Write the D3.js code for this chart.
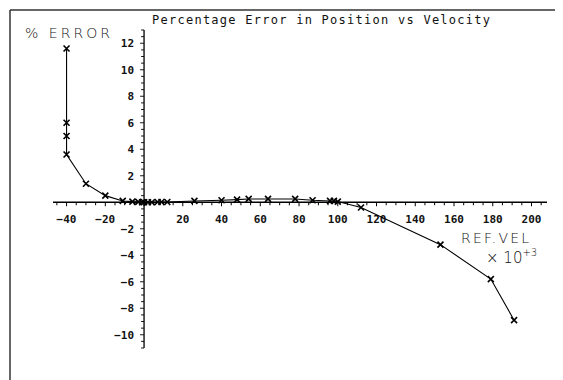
<!DOCTYPE html>
<html>
<head>
<meta charset="utf-8">
<script src="https://cdnjs.cloudflare.com/ajax/libs/d3/7.8.5/d3.min.js"></script>
<style>
  body { margin: 0; background: #fff; }
  .tick-label { font-family: "DejaVu Sans Mono", monospace; font-size: 11px; font-weight: bold; fill: #111; }
  .title { font-family: "DejaVu Sans Mono", monospace; font-size: 12px; fill: #111; }
  .hand { font-family: "DejaVu Sans", sans-serif; font-weight: 300; fill: #111; }
</style>
</head>
<body>
<div id="chart"></div>
<script>
//canvas size
var svgWidth = 563;
var svgHeight = 380;

// reference velocity (x 10^3) and percentage error
var refVel = [-40, -40, -40, -40, -30, -20, -11, -6, -3, -1, 0, 2, 4, 7, 9, 12, 26, 40, 48, 54, 64, 78, 87, 96, 98, 100, 112, 153, 179, 191];
var pctError = [11.6, 6.0, 5.0, 3.6, 1.4, 0.5, 0.1, 0.05, 0.03, 0, 0, 0, 0, 0.02, 0.02, 0.02, 0.1, 0.15, 0.2, 0.25, 0.25, 0.25, 0.15, 0.1, 0.1, 0.05, -0.4, -3.2, -5.8, -8.9];

// tick labels
var xTickLabels = [-40, -20, 20, 40, 60, 80, 100, 120, 140, 160, 180, 200];
var yTickLabels = [-10, -8, -6, -4, -2, 2, 4, 6, 8, 10, 12];

var svg = d3.select("#chart")
  .append("svg")
  .attr("width", svgWidth)
  .attr("height", svgHeight);

// page border (scanned frame)
svg.append("line")
  .attr("x1", 10).attr("y1", 10).attr("x2", 555).attr("y2", 10)
  .attr("stroke", "#333").attr("stroke-width", 1.5);
svg.append("line")
  .attr("x1", 10).attr("y1", 10).attr("x2", 10).attr("y2", 380)
  .attr("stroke", "#333").attr("stroke-width", 1.5);

// scales
var xScale = d3.scaleLinear().domain([-47, 208]).range([53, 547]);
var yScale = d3.scaleLinear().domain([-11, 13]).range([348, 30]);

var x0 = xScale(0);
var y0 = yScale(0);

// minor ticks
var xMinor = d3.range(-45, 206, 5);
var yMinor = d3.range(-11, 13.01, 0.5);

// x axis through zero
var xAxisG = svg.append("g")
  .attr("transform", `translate(0, ${y0})`);

xAxisG.append("line")
  .attr("x1", xScale(-47)).attr("x2", xScale(208))
  .attr("stroke", "#000").attr("stroke-width", 1.3);

xAxisG.selectAll(".xminor")
  .data(xMinor)
  .enter()
  .append("line")
  .attr("x1", d => xScale(d)).attr("x2", d => xScale(d))
  .attr("y1", 0).attr("y2", d => d % 20 === 0 ? 4 : 3)
  .attr("stroke", "#000").attr("stroke-width", 1);

xAxisG.selectAll(".tick-label")
  .data(xTickLabels)
  .enter()
  .append("text")
  .attr("class", "tick-label")
  .attr("x", d => xScale(d))
  .attr("y", 21)
  .attr("text-anchor", "middle")
  .text(d => d < 0 ? "\u2212" + Math.abs(d) : d);

// y axis through zero
var yAxisG = svg.append("g")
  .attr("transform", `translate(${x0}, 0)`);

yAxisG.append("line")
  .attr("y1", yScale(-11)).attr("y2", yScale(13))
  .attr("stroke", "#000").attr("stroke-width", 1.3);

yAxisG.selectAll(".yminor")
  .data(yMinor)
  .enter()
  .append("line")
  .attr("y1", d => yScale(d)).attr("y2", d => yScale(d))
  .attr("x1", d => d % 2 === 0 ? -4 : -3).attr("x2", 0)
  .attr("stroke", "#000").attr("stroke-width", 0.9);

yAxisG.selectAll(".tick-label")
  .data(yTickLabels)
  .enter()
  .append("text")
  .attr("class", "tick-label")
  .attr("x", -10)
  .attr("y", d => yScale(d))
  .attr("dy", "0.35em")
  .attr("text-anchor", "end")
  .text(d => d < 0 ? "\u2212" + Math.abs(d) : d);

// data line
var points = refVel.map((v, i) => [v, pctError[i]]);

var line = d3.line()
  .x(d => xScale(d[0]))
  .y(d => yScale(d[1]));

svg.append("path")
  .datum(points)
  .attr("d", line)
  .attr("fill", "none")
  .attr("stroke", "#000")
  .attr("stroke-width", 1.1);

// cross markers
var s = 3;
var marks = svg.selectAll(".mark")
  .data(points)
  .enter()
  .append("g")
  .attr("transform", d => `translate(${xScale(d[0])}, ${yScale(d[1])})`);

marks.append("path")
  .attr("d", `M${-s},${-s}L${s},${s}M${-s},${s}L${s},${-s}`)
  .attr("stroke", "#000")
  .attr("stroke-width", 1.6);

// title
svg.append("text")
  .attr("class", "title")
  .attr("x", 152)
  .attr("y", 24)
  .attr("textLength", 338)
  .text("Percentage Error in Position vs Velocity");

// hand written annotations
svg.append("text")
  .attr("class", "hand")
  .attr("x", 25)
  .attr("y", 38)
  .attr("font-size", 14)
  .attr("textLength", 85)
  .text("% ERROR");

svg.append("text")
  .attr("class", "hand")
  .attr("x", 461)
  .attr("y", 243)
  .attr("font-size", 14)
  .attr("textLength", 68)
  .text("REF.VEL");

var mult = svg.append("text")
  .attr("class", "hand")
  .attr("x", 486)
  .attr("y", 263)
  .attr("font-size", 15);
mult.append("tspan").text("\u00d7 10");
mult.append("tspan")
  .attr("dy", -7)
  .attr("font-size", 10)
  .text("+3");
</script>
</body>
</html>
